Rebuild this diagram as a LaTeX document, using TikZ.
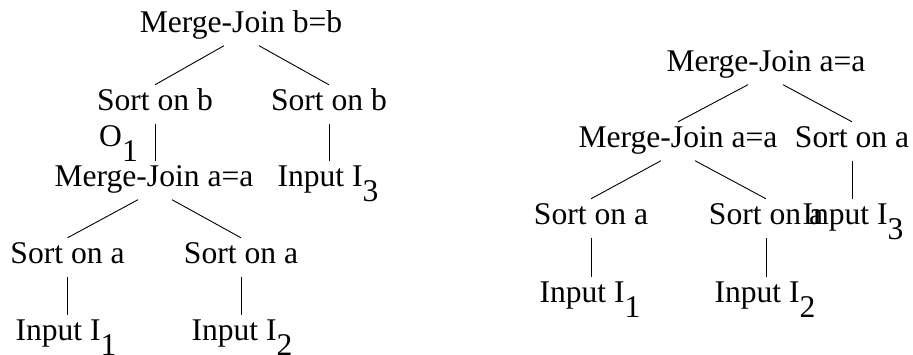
\documentclass[tikz,border=0pt]{standalone}
\usepackage{fontspec}
\setmainfont{Liberation Serif}
\newcommand{\lowsub}[1]{\raisebox{-0.46em}{#1}}
\begin{document}
\begin{tikzpicture}[x=1pt,y=-1pt,
  lbl/.style={anchor=base,inner sep=0pt,text height=26pt,text depth=12.5pt,
    font=\fontsize{31.6}{36}\selectfont},
  edge/.style={line width=0.9pt}]
\useasboundingbox (0,0) rectangle (913,355);
% left tree
\node[lbl] (mjbb) at (241,33) {Merge-Join b=b};
\node[lbl] (sbL) at (155,111) {Sort on b};
\node[lbl] (sbR) at (329,111) {Sort on b};
\node[lbl,anchor=base west] (o1) at (99,147) {O\lowsub{1}};
\node[lbl] (mjaaL) at (154,187) {Merge-Join a=a};
\node[lbl] (in3L) at (328,187) {Input I\lowsub{3}};
\node[lbl] (saL1) at (67.5,264) {Sort on a};
\node[lbl] (saL2) at (241,264) {Sort on a};
\node[lbl] (in1L) at (66,341) {Input I\lowsub{1}};
\node[lbl] (in2L) at (242,341) {Input I\lowsub{2}};
% right tree
\node[lbl] (mjTop) at (766,72) {Merge-Join a=a};
\node[lbl] (mjMid) at (678,148) {Merge-Join a=a};
\node[lbl] (saR3) at (852,148) {Sort on a};
\node[lbl] (saR1) at (591,225) {Sort on a};
\node[lbl] (saR2) at (766,225) {Sort on a};
\node[lbl] (in3R) at (853,225) {Input I\lowsub{3}};
\node[lbl] (in1R) at (590,303) {Input I\lowsub{1}};
\node[lbl] (in2R) at (765,303) {Input I\lowsub{2}};
% connectors left
\draw[edge] ([xshift=-17pt]mjbb.south) -- (sbL.north);
\draw[edge] ([xshift=18pt]mjbb.south) -- (sbR.north);
\draw[edge] (sbL.south) -- (sbL.south |- mjaaL.north);
\draw[edge] (sbR.south) -- (sbR.south |- in3L.north);
\draw[edge] ([xshift=-16pt]mjaaL.south) -- (saL1.north);
\draw[edge] ([xshift=18pt]mjaaL.south) -- (saL2.north);
\draw[edge] (saL1.south) -- (saL1.south |- in1L.north);
\draw[edge] (saL2.south) -- (saL2.south |- in2L.north);
% connectors right
\draw[edge] ([xshift=-18pt]mjTop.south) -- (mjMid.north);
\draw[edge] ([xshift=17pt]mjTop.south) -- (saR3.north);
\draw[edge] ([xshift=-17pt]mjMid.south) -- (saR1.north);
\draw[edge] ([xshift=17pt]mjMid.south) -- (saR2.north);
\draw[edge] (saR3.south) -- (saR3.south |- in3R.north);
\draw[edge] (saR1.south) -- (saR1.south |- in1R.north);
\draw[edge] (saR2.south) -- (saR2.south |- in2R.north);
\end{tikzpicture}
\end{document}
